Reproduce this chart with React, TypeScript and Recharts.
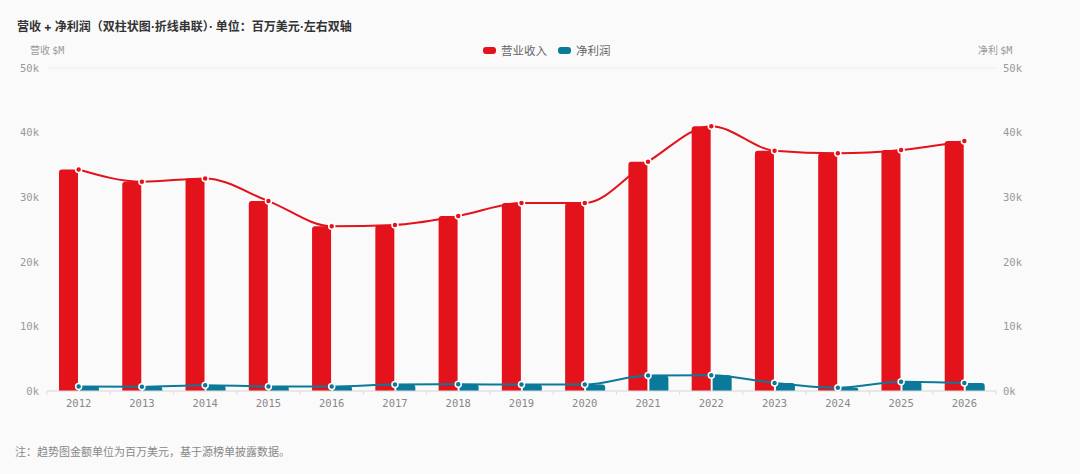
import React from 'react';
import { ComposedChart, Bar, Line, XAxis, YAxis, CartesianGrid } from 'recharts';

const years = ['2012','2013','2014','2015','2016','2017','2018','2019','2020','2021','2022','2023','2024','2025','2026'];
const revenue = [34300, 32400, 32900, 29400, 25500, 25700, 27100, 29100, 29100, 35500, 41000, 37200, 36800, 37300, 38700];
const netProfit = [700, 650, 900, 700, 700, 1000, 1050, 1000, 1000, 2400, 2450, 1250, 500, 1450, 1250];
const yTicks = [0, 10000, 20000, 30000, 40000, 50000];

const RED = '#e3121b';
const BLUE = '#0b7a9a';
const MONO = '"DejaVu Sans Mono", monospace';
const CJK = '"Noto Sans CJK SC", "Noto Sans", sans-serif';
const TITLE_FONT = 'Inter, "Noto Sans CJK SC", sans-serif';

const data = years.map((y, i) => ({ year: y, revenue: revenue[i], net: netProfit[i] }));

const fmtK = (v: number) => `${Math.round(v / 1000)}k`;

const XTick = (props: any) => {
  const { x, y, payload, index } = props;
  const half = 31.63;
  const isLast = index === years.length - 1;
  return (
    <g>
      <line x1={x - half} x2={x - half} y1={y - 8} y2={y - 4} stroke="#ddd" />
      {isLast && <line x1={x + half} x2={x + half} y1={y - 8} y2={y - 4} stroke="#ddd" />}
      <text x={x} y={y + 8} textAnchor="middle" fill="#888" fontSize={10.5} fontFamily={MONO}>
        {payload.value}
      </text>
    </g>
  );
};

const dotStyle = (color: string) => ({ r: 3, fill: color, stroke: '#fff', strokeWidth: 1.5 });

export default function App() {
  return (
    <div style={{ position: 'relative', width: 1080, height: 474, background: '#fafafa', overflow: 'hidden' }}>
      <style>{`body{margin:0}`}</style>
      <div style={{ position: 'absolute', left: 17, top: 18, fontFamily: TITLE_FONT, fontSize: 12, fontWeight: 700, color: '#333', whiteSpace: 'nowrap', lineHeight: '18px' }}>
        营收 + 净利润（双柱状图·折线串联）· 单位：百万美元·左右双轴
      </div>
      <div style={{ position: 'absolute', left: 30, top: 43, fontFamily: CJK, fontSize: 10, color: '#999', whiteSpace: 'nowrap', lineHeight: '14px' }}>
        营收 <span style={{ fontFamily: MONO }}>$M</span>
      </div>
      <div style={{ position: 'absolute', left: 978, top: 43, fontFamily: CJK, fontSize: 10, color: '#999', whiteSpace: 'nowrap', lineHeight: '14px' }}>
        净利 <span style={{ fontFamily: MONO }}>$M</span>
      </div>
      <div style={{ position: 'absolute', left: 483, top: 42, display: 'flex', alignItems: 'center', fontFamily: CJK, fontSize: 11.5, color: '#666', whiteSpace: 'nowrap', lineHeight: '16px' }}>
        <span style={{ display: 'inline-block', width: 13, height: 7, borderRadius: 3, background: RED, marginRight: 5 }} />
        <span>营业收入</span>
        <span style={{ display: 'inline-block', width: 13, height: 7, borderRadius: 3, background: BLUE, marginLeft: 11, marginRight: 5 }} />
        <span>净利润</span>
      </div>
      <div style={{ position: 'absolute', left: 15, top: 443, fontFamily: CJK, fontSize: 11, color: '#888', whiteSpace: 'nowrap', lineHeight: '16px' }}>
        注：趋势图金额单位为百万美元，基于源榜单披露数据。
      </div>
      <div style={{ position: 'absolute', left: 0, top: 0 }}>
        <ComposedChart width={1080} height={474} data={data} margin={{ top: 68, right: 0, bottom: 53, left: 0 }} barSize={19} barGap={2}>
          <CartesianGrid vertical={false} stroke="#ececec" />
          <XAxis dataKey="year" tick={<XTick />} tickLine={false} axisLine={{ stroke: '#ddd' }} height={30} interval={0} />
          <YAxis yAxisId="left" orientation="left" width={47} domain={[0, 50000]} ticks={yTicks} tickFormatter={fmtK}
            tickLine={false} axisLine={false} tickSize={0} tickMargin={8}
            tick={{ fill: '#999', fontSize: 10.5, fontFamily: MONO }} />
          <YAxis yAxisId="right" orientation="right" width={84} domain={[0, 50000]} ticks={yTicks} tickFormatter={fmtK}
            tickLine={false} axisLine={false} tickSize={0} tickMargin={7}
            tick={{ fill: '#999', fontSize: 10.5, fontFamily: MONO, textAnchor: 'start' }} />
          <Bar yAxisId="left" dataKey="revenue" fill={RED} radius={[3, 3, 0, 0]} isAnimationActive={false} />
          <Bar yAxisId="right" dataKey="net" fill={BLUE} radius={[3, 3, 0, 0]} isAnimationActive={false} />
          <Line yAxisId="left" type="monotone" dataKey="revenue" stroke={RED} strokeWidth={2} dot={dotStyle(RED)} activeDot={false} isAnimationActive={false} />
          <Line yAxisId="right" type="monotone" dataKey="net" stroke={BLUE} strokeWidth={2} dot={dotStyle(BLUE)} activeDot={false} isAnimationActive={false} />
        </ComposedChart>
      </div>
    </div>
  );
}
